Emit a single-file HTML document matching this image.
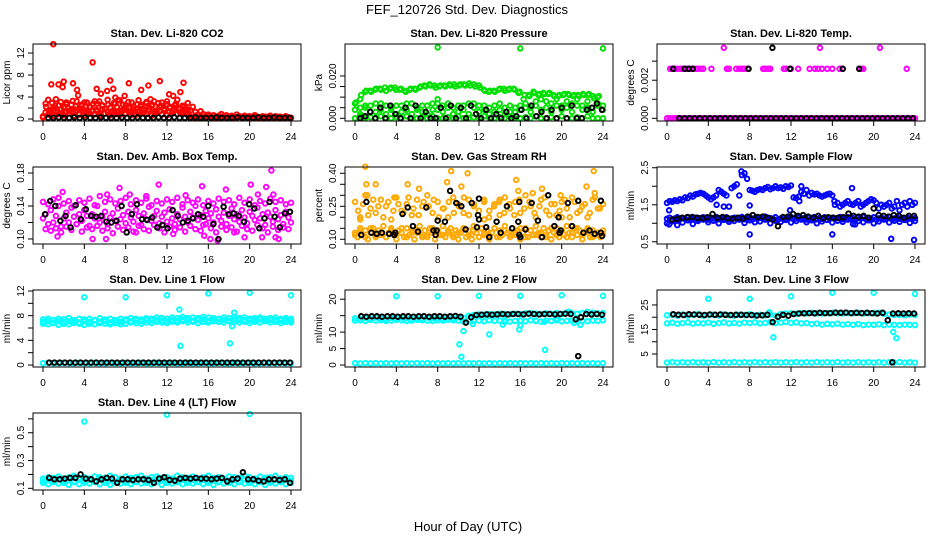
<!DOCTYPE html>
<html><head><meta charset="utf-8">
<style>
html,body{margin:0;padding:0;background:#fff;}
svg{display:block;font-family:"Liberation Sans",Arial,sans-serif;}
</style></head>
<body>
<svg id="chart" width="936" height="540" viewBox="0 0 936 540" xmlns="http://www.w3.org/2000/svg">
<rect x="0" y="0" width="936" height="540" fill="#fff"/>
<text x="467" y="14" font-size="13" text-anchor="middle">FEF_120726  Std. Dev. Diagnostics</text>
<text x="468" y="531" font-size="13" text-anchor="middle">Hour of Day (UTC)</text>
</svg>
<script>
// ---------- data ----------
const xTicks = [0,4,8,12,16,20,24];

// Panel 1: CO2
const co2Main = [0.3,2.8,3.5,1.2,2.0,3.6,2.5,1.0,2.2,3.0,1.5,2.6,1.8,3.2,0.9,2.4,1.6,3.0,2.2,1.4,3.2,2.8,1.0,2.5,1.9,3.5,2.1,1.2,2.8,3.4,1.5,2.6,2.0,3.1,1.3,2.3,1.8,3.4,2.6,1.1,2.9,1.7,2.4,3.2,1.4,2.2,3.0,1.6,2.7,2.0,1.2,2.5,3.5,1.8,2.4,1.0,2.9,1.6,2.2,1.3,0.8,1.4,0.9,0.6,0.8,0.5,0.7,0.4,0.6,0.9,0.5,0.7,0.3,0.6,0.4,0.8,0.5,0.3,0.6,0.4,0.5,0.3,0.7,0.4,0.3,0.5,0.2,0.4,0.6,0.3,0.5,0.3,0.4,0.2,0.5,0.3,0.2];
const co2Low = [0.5,1.2,0.8,1.6,0.6,1.4,0.9,1.8,0.7,1.3,1.0,1.7,0.6,1.5,0.8,1.9,0.7,1.2,1.1,1.6,0.9,1.4,0.6,1.8,1.0,1.3,0.7,1.5,0.9,1.2,0.8,1.6,1.0,1.4,0.7,1.9,0.8,1.3,1.1,1.5,0.9,1.7,0.6,1.2,1.0,1.4,0.8,1.6,0.7,1.3,1.0,1.8,0.9,1.2,1.1,1.5,0.7,0.5,0.3,0.6,0.2,0.4,0.3,0.2,0.5,0.3,0.2,0.4,0.3,0.2,0.5,0.2,0.3,0.4,0.2,0.3,0.5,0.2,0.4,0.3,0.2,0.3,0.4,0.2,0.3,0.2,0.4,0.3,0.2,0.3,0.2,0.4,0.2,0.3,0.2,0.3,0.2];
const co2Extra = [2.2,1.6,2.9,2.4,1.3,3.1,2.0,2.7,1.5,3.3,2.3,1.8,2.6,3.0,1.4,2.1,2.8,1.7,3.2,2.4,1.9,2.6,1.2,2.9,2.2,3.4,1.6,2.5,2.0,3.0,1.4,2.7,2.3,1.8,3.1,2.1,2.6,1.5,2.9,2.4,1.9,3.2,2.2,1.6,2.8,2.0,1.3,2.4,1.7];
const co2OutT = [1.0,0.8,1.5,2.0,1.9,2.9,3.3,4.8,5.2,6.5,6.8,6.2,7.9,8.3,9.5,10.2,11.3,13.3,13.6,12.2,10.4,3.4,5.6,7.0,12.6];
const co2OutV = [13.6,6.3,6.3,6.8,5.8,6.5,5.3,10.3,5.5,7.0,5.5,5.1,4.2,6.5,5.3,6.1,6.9,4.9,6.6,4.5,3.6,4.3,4.6,3.9,4.2];
const co2Blk = [0.2,0.2,0.3,0.2,0.2,0.3,0.2,0.3,0.2,0.2,0.3,0.2,0.2,0.2,0.3,0.2,0.2,0.3,0.2,0.2,0.2,0.3,0.2,0.2,0.3,0.2,0.2,0.2,0.3,0.2,0.2,0.2,0.3,0.2,0.2,0.2,0.3,0.2,0.2,0.2,0.3,0.2,0.2,0.3,0.2,0.2,0.2];

// Panel 2: Pressure
const presHi = [0.009,0.0125,0.013,0.0135,0.014,0.0145,0.014,0.0145,0.0135,0.013,0.0135,0.014,0.0145,0.0155,0.016,0.0155,0.015,0.0155,0.016,0.016,0.0155,0.016,0.0165,0.016,0.0155,0.0135,0.0125,0.013,0.0135,0.014,0.0135,0.014,0.012,0.009,0.011,0.0125,0.011,0.012,0.0115,0.011,0.0105,0.011,0.0115,0.0105,0.011,0.0115,0.011,0.0105,0.01];
const presHi2 = [0.011,0.013,0.0125,0.014,0.0135,0.013,0.0145,0.0135,0.014,0.0125,0.014,0.0135,0.015,0.015,0.0155,0.0145,0.0155,0.015,0.0155,0.015,0.016,0.0155,0.0155,0.015,0.0145,0.013,0.013,0.0125,0.014,0.013,0.014,0.0135,0.0125,0.011,0.0105,0.012,0.0115,0.0115,0.012,0.0105,0.011,0.0115,0.011,0.011,0.0105,0.011,0.0115,0.0095,0.0105];
const presMid = [0.007,0.005,0.006,0.003,0.007,0.004,0.006,0.005,0.002,0.006,0.004,0.007,0.005,0.003,0.006,0.007,0.004,0.006,0.007,0.005,0.003,0.006,0.007,0.005,0.006,0.004,0.002,0.006,0.004,0.005,0.003,0.005,0.006,0.007,0.005,0.008,0.009,0.008,0.007,0.009,0.006,0.008,0.007,0.009,0.006,0.008,0.005,0.007,0.006];
const presMid2 = [0.004,0.002,0.005,0.006,0.003,0.007,0.002,0.004,0.006,0.003,0.007,0.002,0.004,0.006,0.002,0.004,0.007,0.003,0.005,0.002,0.006,0.004,0.002,0.007,0.003,0.006,0.005,0.003,0.007,0.002,0.006,0.003,0.004,0.005,0.003,0.006,0.004,0.005,0.003,0.006,0.004,0.005,0.003,0.006,0.004,0.005,0.003,0.006,0.004];
const presLow = [0,0.001,0,0.0005,0,0.001,0,0,0.0005,0,0.001,0,0,0.0005,0,0.001,0,0,0.0005,0,0.001,0,0,0.0005,0,0.001,0,0,0.0005,0,0.001,0,0,0.0005,0,0.001,0,0,0.0005,0,0.001,0,0,0.0005,0,0.001,0,0,0];
const presOutT = [8.0,16.0,24.0,0.1,8.0];
const presOutV = [0.0335,0.033,0.033,0.0075,0.009];
const presBlk = [0.0,0.001,0.003,0.0,0.005,0.0,0.006,0.002,0.0,0.005,0.0,0.006,0.0,0.003,0.0,0.0,0.005,0.0,0.006,0.0,0.005,0.0,0.006,0.002,0.0,0.004,0.0,0.002,0.0,0.003,0.0,0.001,0.004,0.0,0.006,0.001,0.003,0.0,0.004,0.0,0.005,0.0,0.006,0.0,0.0,0.004,0.005,0.007,0.004];

// Panel 3: Temp
const tempZero = [0,0,0,0,0,0,0,0,0,0,0,0,0,0,0,0,0,0,0,0,0,0,0,0,0,0,0,0,0,0,0,0,0,0,0,0,0,0,0,0,0,0,0,0,0,0,0,0,0,0,0,0,0,0,0,0,0,0,0,0,0,0,0,0,0,0,0,0,0,0,0,0,0,0,0,0,0,0,0,0,0,0,0,0,0,0,0,0,0,0,0,0,0,0,0,0,0];
const tempHiT = [0.3,0.5,0.8,1.0,1.3,1.5,1.8,2.0,2.2,2.5,2.8,3.0,3.3,3.5,4.3,5.8,6.0,6.7,7.0,7.3,7.5,7.8,9.3,9.5,9.8,10.0,11.3,11.5,12.0,12.7,13.8,14.3,14.6,15.0,15.5,16.0,16.7,17.0,18.8,19.0,23.2,5.5,14.8,20.6];
const tempHiV = [0.0026,0.0026,0.0026,0.0026,0.0026,0.0026,0.0026,0.0026,0.0026,0.0026,0.0026,0.0026,0.0026,0.0026,0.0026,0.0026,0.0026,0.0026,0.0026,0.0026,0.0026,0.0026,0.0026,0.0026,0.0026,0.0026,0.0026,0.0026,0.0026,0.0026,0.0026,0.0026,0.0026,0.0026,0.0026,0.0026,0.0026,0.0026,0.0026,0.0026,0.0026,0.0037,0.0037,0.0037];
const tempBlkZero = [0,0,0,0,0,0,0,0,0,0,0,0,0,0,0,0,0,0,0,0,0,0,0,0,0,0,0,0,0,0,0,0,0,0,0,0,0,0,0,0,0,0,0,0,0,0,0];
const tempBlkT = [0.6,1.7,2.1,2.5,7.9,11.9,17.0,18.6,10.2];
const tempBlkV = [0.0026,0.0026,0.0026,0.0026,0.0026,0.0026,0.0026,0.0026,0.0037];

// Panel 4: Amb box temp
const ambA = [0.125,0.13,0.118,0.135,0.12,0.128,0.14,0.115,0.125,0.132,0.12,0.138,0.127,0.118,0.13,0.122,0.135,0.128,0.116,0.13,0.125,0.14,0.12,0.127,0.133,0.118,0.126,0.131,0.122,0.137,0.124,0.129,0.119,0.133,0.126,0.121,0.135,0.128,0.117,0.131,0.124,0.139,0.122,0.128,0.134,0.119,0.127,0.132,0.121,0.136,0.125,0.118,0.13,0.124,0.138,0.127,0.12,0.133,0.126,0.14,0.123,0.129,0.117,0.134,0.125,0.131,0.12,0.136,0.127,0.122,0.132,0.118,0.128,0.137,0.124,0.13,0.121,0.135,0.126,0.119,0.133,0.128,0.123,0.138,0.125,0.13,0.117,0.132,0.127,0.121,0.135,0.124,0.129,0.118,0.133,0.126,0.12];
const ambB = [0.145,0.112,0.142,0.11,0.148,0.113,0.15,0.108,0.143,0.115,0.146,0.111,0.14,0.118,0.147,0.109,0.144,0.114,0.149,0.112,0.141,0.116,0.152,0.11,0.145,0.113,0.148,0.107,0.143,0.115,0.146,0.111,0.15,0.114,0.142,0.109,0.147,0.116,0.144,0.112,0.149,0.11,0.141,0.117,0.146,0.113,0.143,0.108,0.148,0.115,0.145,0.111,0.15,0.114,0.142,0.109,0.147,0.116,0.144,0.112,0.148,0.11,0.141,0.118,0.146,0.113,0.143,0.108,0.149,0.115,0.145,0.111,0.147,0.114,0.142,0.109,0.15,0.116,0.144,0.112,0.148,0.11,0.141,0.117,0.146,0.113,0.143,0.108,0.149,0.115,0.145,0.111,0.147,0.114,0.142,0.112,0.144];
const ambOutT = [1.9,1.4,4.8,6.1,6.2,7.4,8.4,9.0,10.0,11.2,12.6,13.8,15.4,15.6,16.2,17.7,18.5,19.5,20.1,20.8,21.2,21.6,22.1,22.3,22.5,22.8,16.9];
const ambOutV = [0.157,0.103,0.1,0.1,0.154,0.162,0.154,0.108,0.152,0.166,0.106,0.153,0.164,0.104,0.1,0.16,0.108,0.102,0.166,0.154,0.102,0.163,0.183,0.154,0.102,0.1,0.098];
const ambBlk = [0.13,0.146,0.14,0.122,0.128,0.114,0.141,0.124,0.136,0.128,0.127,0.128,0.121,0.12,0.122,0.14,0.108,0.13,0.142,0.124,0.123,0.126,0.114,0.117,0.113,0.135,0.128,0.12,0.122,0.125,0.13,0.127,0.14,0.118,0.1,0.139,0.13,0.131,0.128,0.121,0.142,0.137,0.113,0.125,0.145,0.127,0.114,0.131,0.133];

// Panel 5: Gas stream RH
const rhA = [0.13,0.11,0.15,0.12,0.14,0.10,0.13,0.15,0.11,0.14,0.12,0.16,0.11,0.13,0.15,0.12,0.10,0.14,0.13,0.11,0.15,0.12,0.14,0.10,0.13,0.16,0.11,0.14,0.12,0.15,0.13,0.10,0.14,0.12,0.16,0.11,0.13,0.15,0.12,0.14,0.10,0.13,0.15,0.11,0.14,0.12,0.16,0.13,0.11,0.15,0.12,0.14,0.10,0.13,0.15,0.11,0.14,0.12,0.16,0.13,0.11,0.15,0.12,0.14,0.10,0.13,0.15,0.11,0.14,0.12,0.16,0.13,0.11,0.15,0.12,0.14,0.10,0.13,0.15,0.11,0.14,0.12,0.16,0.13,0.11,0.15,0.12,0.14,0.10,0.13,0.15,0.11,0.14,0.12,0.13,0.11,0.14];
const rhA2 = [0.12,0.14,0.11,0.15,0.12,0.13,0.11,0.14,0.12,0.15,0.11,0.13,0.14,0.12,0.11,0.15,0.13,0.12,0.14,0.11,0.13,0.15,0.12,0.14,0.11,0.13,0.12,0.15,0.11,0.14,0.12,0.13,0.15,0.11,0.14,0.12,0.13,0.11,0.15,0.12,0.14,0.11,0.13,0.15,0.12,0.14,0.11,0.13,0.12];
const rhB = [0.27,0.2,0.3,0.24,0.22,0.28,0.25,0.19,0.29,0.23,0.26,0.21,0.28,0.25,0.3,0.22,0.27,0.24,0.2,0.29,0.26,0.22,0.28,0.25,0.19,0.27,0.23,0.26,0.21,0.29,0.24,0.27,0.22,0.3,0.25,0.2,0.28,0.23,0.26,0.21,0.27,0.24,0.29,0.22,0.25,0.2,0.28,0.24,0.26];
const rhB2 = [0.23,0.26,0.21,0.28,0.25,0.2,0.27,0.23,0.26,0.22,0.29,0.24,0.21,0.27,0.25,0.28,0.2,0.24,0.27,0.22,0.25,0.29,0.21,0.26,0.23,0.28,0.2,0.25,0.27,0.22,0.26,0.21,0.28,0.24,0.27,0.22,0.25,0.29,0.21,0.26,0.23,0.28,0.2,0.27,0.23,0.26,0.22,0.29,0.24];
const rhOutT = [1.0,1.1,2.0,1.2,5.1,6.2,8.9,9.3,10.9,10.3,15.6,15.8,17.2,18.1,19.9,22.4,23.1,23.2,0.5,11.3,20.0,3.8,12.5,14.0];
const rhOutV = [0.43,0.35,0.35,0.3,0.35,0.33,0.36,0.41,0.4,0.34,0.37,0.32,0.31,0.33,0.3,0.34,0.41,0.31,0.19,0.1,0.2,0.29,0.19,0.28];
const rhBlkT = [0.6,1.1,1.6,2.1,2.6,3.3,3.8,3.9,4.6,5.1,5.6,6.1,6.9,7.6,7.8,7.9,8.0,8.7,9.2,9.8,10.3,10.7,11.3,11.8,11.9,12.0,12.0,12.7,13.0,13.7,14.1,14.7,15.2,15.8,15.9,15.9,16.0,16.5,17.1,17.7,18.1,18.7,19.3,19.7,19.8,19.9,20.6,21.0,21.6,22.1,22.7,23.2,23.8,23.8,23.9];
const rhBlkV = [0.12,0.27,0.13,0.125,0.13,0.125,0.12,0.13,0.215,0.245,0.16,0.135,0.245,0.14,0.12,0.14,0.185,0.18,0.32,0.265,0.25,0.145,0.265,0.155,0.21,0.19,0.285,0.155,0.11,0.18,0.13,0.25,0.15,0.18,0.12,0.27,0.11,0.145,0.265,0.185,0.11,0.3,0.16,0.2,0.13,0.14,0.265,0.16,0.275,0.13,0.14,0.125,0.13,0.275,0.115];

// Panel 6: Sample flow
const flowLowA = [1.0,1.05,1.1,1.02,1.08,0.98,1.06,1.1,1.03,1.07,1.0,1.09,1.04,1.06,1.1,1.01,1.08,1.03,1.05,1.1,1.0,1.07,1.04,1.09,1.02,1.06,1.1,1.03,1.08,1.0,1.05,1.09,1.02,1.07,1.04,1.1,0.98,1.06,1.03,1.08,1.0,1.05,1.1,1.02,1.07,1.04,1.09,1.01,1.06];
const flowLowB = [1.12,1.15,1.1,1.13,1.16,1.11,1.14,1.12,1.17,1.1,1.13,1.15,1.11,1.14,1.16,1.12,1.1,1.15,1.13,1.17,1.11,1.14,1.12,1.16,1.1,1.13,1.15,1.12,1.14,1.17,1.11,1.13,1.16,1.1,1.14,1.12,1.15,1.13,1.18,1.11,1.14,1.12,1.16,1.1,1.13,1.15,1.12,1.14,1.17,1.11,1.13,1.16,1.12,1.14,1.1,1.15,1.13,1.17,1.11,1.14,1.12,1.16,1.1,1.13,1.15,1.12,1.14,1.17,1.11,1.13,1.16,1.12,1.14,1.1,1.15,1.13,1.17,1.11,1.14,1.12,1.16,1.1,1.13,1.15,1.12,1.14,1.17,1.11,1.13,1.16,1.12,1.14,1.1,1.15,1.13,1.12,1.14];
const flowHigh = [1.55,1.6,1.58,1.62,1.6,1.65,1.62,1.7,1.68,1.75,1.72,1.78,1.8,1.82,1.8,1.75,1.7,1.65,1.7,1.75,1.9,1.85,1.8,1.75,1.45,1.95,2.0,2.05,1.75,2.3,2.35,2.2,1.9,1.88,1.85,1.9,1.92,1.9,1.95,1.98,1.92,1.95,2.0,1.95,1.97,1.93,2.0,1.98,2.02,1.7,1.68,1.72,1.85,1.8,1.9,1.75,1.82,1.78,1.8,1.75,1.72,1.75,1.78,1.8,1.75,1.5,1.55,1.45,1.5,1.55,1.6,1.52,1.5,1.55,1.6,1.45,1.5,1.55,1.6,1.65,1.62,1.55,1.4,1.5,1.45,1.5,1.55,1.4,1.45,1.6,1.35,1.5,1.55,1.45,1.6,1.5,1.55];
const flowOutT = [0.2,0.2,7.2,8.0,8.0,13.0,16.0,16.2,17.9,18.2,21.7,23.9,11.9,4.8,5.5,12.8,1.0];
const flowOutV = [1.35,0.97,2.4,0.7,1.48,2.0,0.7,1.6,1.95,0.97,0.58,0.55,1.35,1.5,1.45,1.6,0.95];
const flowBlk = [1.1,1.12,1.15,1.16,1.17,1.15,1.14,1.16,1.25,1.15,1.17,1.14,1.12,1.15,1.13,1.18,1.22,1.17,1.18,1.15,1.1,0.92,1.17,1.18,1.25,1.2,1.22,1.18,1.15,1.2,1.14,1.16,1.15,1.15,1.16,1.26,1.2,1.18,1.2,1.15,1.4,1.22,1.2,1.18,1.22,1.2,1.15,1.2,1.2];

// Panel 7: Line 1 flow
const l1A = [7.4,7.5,7.3,7.5,7.4,7.6,7.3,7.5,7.4,7.5,7.3,7.6,7.4,7.5,7.3,7.5,7.4,7.6,7.5,7.4,7.6,7.5,7.7,7.6,7.5,7.7,7.6,7.8,7.6,7.7,7.6,7.8,7.7,7.6,7.5,7.7,7.6,7.8,7.6,7.7,7.5,7.6,7.7,7.5,7.6,7.7,7.5,7.6,7.5];
const l1B = [6.7,6.6,6.8,6.5,6.7,6.6,6.8,6.7,6.5,6.7,6.6,6.8,6.7,6.6,6.8,6.6,6.7,6.9,6.8,6.7,6.9,6.8,7.0,6.9,6.8,7.0,6.9,7.1,6.9,7.0,6.8,7.0,6.9,7.1,7.0,6.9,7.1,7.0,6.9,7.0,6.8,7.0,6.9,7.1,6.9,7.0,6.8,7.0,6.9];
const l1C = [7.0,7.1,6.9,7.1,7.0,7.1,7.0,6.9,7.1,7.0,7.2,7.0,7.1,6.9,7.1,7.0,7.2,7.1,7.2,7.1,7.3,7.2,7.3,7.2,7.1,7.3,7.2,7.4,7.3,7.2,7.3,7.4,7.2,7.3,7.4,7.3,7.2,7.4,7.3,7.3,7.2,7.3,7.4,7.2,7.3,7.3,7.2,7.3,7.2];
const l1Zero = [0.3,0.35,0.3,0.3,0.35,0.3,0.3,0.35,0.3,0.3,0.35,0.3,0.3,0.35,0.3,0.3,0.35,0.3,0.3,0.35,0.3,0.3,0.35,0.3,0.3,0.35,0.3,0.3,0.35,0.3,0.3,0.35,0.3,0.3,0.35,0.3,0.3,0.35,0.3,0.3,0.35,0.3,0.3,0.35,0.3,0.3,0.35,0.3,0.3];
const l1OutT = [4,8,12,16,20,24,13.2,13.3,18.1,18.5,18.3];
const l1OutV = [11.0,11.0,11.3,11.6,11.7,11.3,9.0,3.1,3.5,8.5,6.3];
const l1Blk = [0.4,0.4,0.4,0.4,0.4,0.4,0.4,0.4,0.4,0.4,0.4,0.4,0.4,0.4,0.4,0.4,0.4,0.4,0.4,0.4,0.4,0.4,0.4,0.4,0.4,0.4,0.4,0.4,0.4,0.4,0.4,0.4,0.4,0.4,0.4,0.4,0.4,0.4,0.4,0.4,0.4,0.4,0.4,0.4,0.4,0.4,0.4];

// Panel 8: Line 2 flow
const l2A = [14.2,14.0,14.3,14.1,14.4,14.2,14.0,14.3,14.1,14.4,14.2,14.0,14.3,14.1,14.4,14.2,14.3,14.1,14.4,14.2,14.5,14.3,15.0,15.2,15.4,15.3,15.5,15.4,15.6,15.5,15.4,15.6,15.5,15.7,15.8,15.6,15.5,15.7,15.6,15.8,15.5,15.9,15.7,15.6,15.8,16.2,15.9,15.7,15.8];
const l2B = [13.5,13.6,13.4,13.7,13.5,13.6,13.4,13.5,13.7,13.6,13.4,13.5,13.7,13.6,13.5,13.4,13.6,13.5,13.7,13.6,13.5,13.2,13.6,13.4,13.5,13.3,13.6,13.4,13.5,13.6,13.2,13.4,13.5,13.3,13.6,13.4,13.2,13.5,13.4,13.6,13.3,13.4,13.5,13.2,13.4,13.3,13.5,13.4,13.6];
const l2Zero = [0.6,0.5,0.6,0.5,0.6,0.5,0.6,0.5,0.6,0.5,0.6,0.5,0.6,0.5,0.6,0.5,0.6,0.5,0.6,0.5,0.6,0.5,0.6,0.5,0.6,0.5,0.6,0.5,0.6,0.5,0.6,0.5,0.6,0.5,0.6,0.5,0.6,0.5,0.6,0.5,0.6,0.5,0.6,0.5,0.6,0.5,0.6,0.5,0.6];
const l2OutT = [4,8,12,16,20,24,10.1,10.3,10.5,11.4,13.0,14.3,14.5,15.9,16.0,18.3,18.4,19.6,20.7,21.2,21.8,17.5];
const l2OutV = [20.9,20.9,21.0,21.0,21.2,21.0,6.3,2.5,10.3,12.5,9.3,12.3,13.1,10.8,12.0,13.1,4.6,14.0,16.2,12.8,12.2,13.5];
const l2Blk = [14.8,14.7,14.8,14.8,14.7,14.8,14.8,14.7,14.8,14.8,14.7,14.8,14.8,14.7,14.8,14.8,14.7,14.8,14.9,14.7,12.9,14.5,15.2,15.3,15.4,15.3,15.4,15.5,15.4,15.5,15.5,15.4,15.6,15.5,15.4,15.5,15.5,15.4,15.5,15.6,15.5,13.9,14.5,15.5,15.4,15.5,15.3];
const l2BlkOutT = [21.6];
const l2BlkOutV = [2.7];

// Panel 9: Line 3 flow
const l3A = [20.8,21.0,20.6,21.1,20.7,20.9,21.2,20.6,20.9,21.0,20.7,21.1,20.8,20.6,21.0,20.9,21.2,20.7,21.0,20.8,21.1,20.6,21.3,21.5,21.6,21.4,21.7,21.5,21.8,21.6,21.5,21.7,21.8,21.6,21.5,21.7,21.6,21.8,21.5,21.7,21.6,21.8,21.4,21.1,20.9,21.0,20.8,21.1,21.0];
const l3B = [17.5,17.8,17.3,17.6,17.9,17.4,17.7,17.5,17.8,17.3,17.6,17.9,17.5,17.7,17.4,17.8,17.6,17.9,17.5,17.7,18.0,17.6,17.8,18.1,17.7,17.9,17.5,17.6,17.2,17.4,17.0,17.3,17.1,17.4,17.0,17.2,16.9,17.2,16.8,17.0,16.9,17.1,16.8,17.0,16.9,16.8,17.0,16.9,16.8];
const l3Zero = [1.5,1.7,1.5,1.6,1.5,1.7,1.5,1.6,1.5,1.7,1.5,1.6,1.5,1.7,1.5,1.6,1.5,1.7,1.5,1.6,1.5,1.7,1.5,1.6,1.5,1.7,1.5,1.6,1.5,1.7,1.5,1.6,1.5,1.7,1.5,1.6,1.5,1.7,1.5,1.6,1.5,1.7,1.5,1.6,1.5,1.7,1.5,1.6,1.5];
const l3OutT = [4,8,12,16,20,24,10.3,21.9,22.2,9.9];
const l3OutV = [27.5,27.5,28.5,30.0,30.0,29.5,11.8,14.0,11.5,22.0];
const l3Blk = [21.2,21.0,20.9,21.2,21.1,21.0,20.9,21.1,21.0,21.1,21.0,20.9,21.0,21.0,20.9,20.9,20.7,20.8,21.0,18.0,20.2,21.0,20.6,21.3,21.5,21.6,21.7,21.6,21.8,21.7,21.7,21.9,21.8,21.9,21.7,21.8,21.7,21.8,21.7,21.5,21.8,18.8,21.5,21.6,21.5,21.6,21.5];
const l3BlkOutT = [21.8];
const l3BlkOutV = [1.6];

// Panel 10: Line 4 (LT) flow
const l4A = [0.17,0.18,0.175,0.185,0.17,0.18,0.19,0.175,0.18,0.17,0.185,0.18,0.175,0.19,0.18,0.17,0.185,0.175,0.18,0.19,0.17,0.18,0.185,0.175,0.18,0.17,0.19,0.18,0.175,0.185,0.17,0.18,0.19,0.175,0.18,0.17,0.185,0.18,0.175,0.19,0.18,0.17,0.185,0.175,0.18,0.19,0.17,0.18,0.175];
const l4B = [0.14,0.13,0.145,0.135,0.14,0.125,0.145,0.13,0.14,0.135,0.145,0.13,0.14,0.125,0.145,0.135,0.14,0.13,0.145,0.135,0.14,0.13,0.145,0.125,0.14,0.135,0.145,0.13,0.14,0.135,0.145,0.13,0.14,0.125,0.145,0.135,0.14,0.13,0.145,0.135,0.14,0.13,0.145,0.125,0.14,0.135,0.145,0.13,0.14];
const l4C = [0.155,0.16,0.15,0.165,0.155,0.16,0.15,0.165,0.155,0.16,0.15,0.165,0.155,0.16,0.15,0.165,0.155,0.16,0.15,0.165,0.155,0.16,0.15,0.165,0.155,0.16,0.15,0.165,0.155,0.16,0.15,0.165,0.155,0.16,0.15,0.165,0.155,0.16,0.15,0.165,0.155,0.16,0.15,0.165,0.155,0.16,0.15,0.165,0.155];
const l4OutT = [4,12,20];
const l4OutV = [0.58,0.63,0.635];
const l4Blk = [0.175,0.165,0.165,0.17,0.175,0.175,0.2,0.17,0.165,0.15,0.165,0.175,0.17,0.14,0.165,0.165,0.16,0.165,0.165,0.16,0.14,0.17,0.18,0.16,0.155,0.17,0.175,0.17,0.175,0.17,0.17,0.165,0.17,0.175,0.15,0.165,0.17,0.215,0.165,0.165,0.155,0.15,0.165,0.165,0.16,0.165,0.14];

// ---------- layout / config ----------
const panels = [
 {name:'co2',title:'Stan. Dev. Li-820 CO2',ylab:'Licor ppm',col:0,row:0,ymin:-0.36,ymax:13.64,
  ticks:[0,2,4,6,8,10,12],labels:['0','','4','','8','','12'],
  series:[{c:'#ff0000',v:co2Main},{c:'#ff0000',v:co2Low},{c:'#ff0000',v:co2Extra,t0:0.3,t1:14},{c:'#ff0000',t:co2OutT,v:co2OutV},{c:'#000',v:co2Blk,t0:0.5,t1:23.9}]},
 {name:'pressure',title:'Stan. Dev. Li-820 Pressure',ylab:'kPa',col:1,row:0,ymin:-0.00128,ymax:0.0351,
  ticks:[0,0.005,0.01,0.015,0.02],labels:['0.000','','','','0.020'],
  series:[{c:'#00e000',v:presHi,t0:0.5,t1:23.5},{c:'#00e000',v:presHi2,t0:0.6,t1:23.6},{c:'#00e000',v:presMid},{c:'#00e000',v:presMid2},{c:'#00e000',v:presLow},{c:'#00e000',t:presOutT,v:presOutV},{c:'#000',v:presBlk,t0:0.5,t1:23.9}]},
 {name:'temp',title:'Stan. Dev. Li-820 Temp.',ylab:'degrees C',col:2,row:0,ymin:-0.00014,ymax:0.0039,
  ticks:[0,0.001,0.002,0.003],labels:['0.000','','0.002',''],
  series:[{c:'#ff00ff',v:tempZero},{c:'#ff00ff',t:tempHiT,v:tempHiV},{c:'#000',v:tempBlkZero,t0:1.2,t1:23.8},{c:'#000',t:tempBlkT,v:tempBlkV}]},
 {name:'amb-box-temp',title:'Stan. Dev. Amb. Box Temp.',ylab:'degrees C',col:0,row:1,ymin:0.0939,ymax:0.1873,
  ticks:[0.10,0.12,0.14,0.16,0.18],labels:['0.10','','0.14','','0.18'],
  series:[{c:'#ff00ff',v:ambA},{c:'#ff00ff',v:ambB},{c:'#ff00ff',t:ambOutT,v:ambOutV},{c:'#000',v:ambBlk,t0:0.2,t1:23.9}]},
 {name:'gas-rh',title:'Stan. Dev. Gas Stream RH',ylab:'percent',col:1,row:1,ymin:0.0786,ymax:0.4286,
  ticks:[0.10,0.15,0.20,0.25,0.30,0.35,0.40],labels:['0.10','','','0.25','','','0.40'],
  series:[{c:'#ffa800',v:rhA},{c:'#ffa800',v:rhA2},{c:'#ffa800',v:rhB},{c:'#ffa800',v:rhB2,t0:0.3,t1:23.7},{c:'#ffa800',t:rhOutT,v:rhOutV},{c:'#000',t:rhBlkT,v:rhBlkV}]},
 {name:'sample-flow',title:'Stan. Dev. Sample Flow',ylab:'ml/min',col:2,row:1,ymin:0.44,ymax:2.52,
  ticks:[0.5,1.0,1.5,2.0,2.5],labels:['0.5','','1.5','','2.5'],
  series:[{c:'#0000ff',v:flowLowA},{c:'#0000ff',v:flowLowB},{c:'#0000ff',v:flowHigh},{c:'#0000ff',t:flowOutT,v:flowOutV},{c:'#000',v:flowBlk,t0:0.5,t1:23.9}]},
 {name:'line1-flow',title:'Stan. Dev. Line 1 Flow',ylab:'ml/min',col:0,row:2,ymin:-0.32,ymax:12.16,
  ticks:[0,2,4,6,8,10,12],labels:['0','','4','','8','','12'],
  series:[{c:'#00ffff',v:l1A},{c:'#00ffff',v:l1B},{c:'#00ffff',v:l1C},{c:'#00ffff',v:l1Zero},{c:'#00ffff',t:l1OutT,v:l1OutV},{c:'#000',v:l1Blk,t0:0.6,t1:23.9}]},
 {name:'line2-flow',title:'Stan. Dev. Line 2 Flow',ylab:'ml/min',col:1,row:2,ymin:-0.6,ymax:22.8,
  ticks:[0,5,10,15,20],labels:['0','5','10','','20'],
  series:[{c:'#00ffff',v:l2A},{c:'#00ffff',v:l2B},{c:'#00ffff',v:l2Zero},{c:'#00ffff',t:l2OutT,v:l2OutV},{c:'#000',v:l2Blk,t0:0.6,t1:23.9},{c:'#000',t:l2BlkOutT,v:l2BlkOutV}]},
 {name:'line3-flow',title:'Stan. Dev. Line 3 Flow',ylab:'ml/min',col:2,row:2,ymin:-0.3,ymax:31.1,
  ticks:[5,10,15,20,25],labels:['5','','15','','25'],
  series:[{c:'#00ffff',v:l3A},{c:'#00ffff',v:l3B},{c:'#00ffff',v:l3Zero},{c:'#00ffff',t:l3OutT,v:l3OutV},{c:'#000',v:l3Blk,t0:0.6,t1:23.9},{c:'#000',t:l3BlkOutT,v:l3BlkOutV}]},
 {name:'line4-flow',title:'Stan. Dev. Line 4 (LT) Flow',ylab:'ml/min',col:0,row:3,ymin:0.088,ymax:0.642,
  ticks:[0.1,0.2,0.3,0.4,0.5,0.6],labels:['0.1','','0.3','','0.5',''],
  series:[{c:'#00ffff',v:l4A},{c:'#00ffff',v:l4B},{c:'#00ffff',v:l4C},{c:'#00ffff',t:l4OutT,v:l4OutV},{c:'#000',v:l4Blk,t0:0.6,t1:23.9}]}
];

const NS = 'http://www.w3.org/2000/svg';
const svg = document.getElementById('chart');
function mk(tag, attrs, parent){
  const e = document.createElementNS(NS, tag);
  for (const k in attrs) e.setAttribute(k, attrs[k]);
  (parent||svg).appendChild(e);
  return e;
}

panels.forEach(p => {
  const L = 33 + 312*p.col, R = L + 268, T = 44 + 123*p.row, B = T + 77;
  const xs = h => L + 10 + h*(248/24);
  const ys = v => B - (v - p.ymin)/(p.ymax - p.ymin)*(B - T);
  const g = mk('g', {});
  
  

  const tt = mk('text', {x:(L+R)/2, y:T-7, 'font-size':11, 'font-weight':'bold', 'text-anchor':'middle'}, g);
  tt.textContent = p.title;
  
  

  const pg = mk('g', {fill:'none', 'stroke-width':1.9}, g);
  
  
  p.series.forEach(s => {
    const n = s.v.length;
    const t0 = s.t0 !== undefined ? s.t0 : 0, t1 = s.t1 !== undefined ? s.t1 : 24;
    for (let i = 0; i < n; i++) {
      const h = s.t ? s.t[i] : (n > 1 ? t0 + (t1 - t0)*i/(n-1) : t0);
      const c = mk('circle', {cx:xs(h).toFixed(1), cy:ys(s.v[i]).toFixed(1), r:2.3, stroke:s.c}, pg);
      
      
    }
  });

  const box = mk('rect', {x:L, y:T, width:R-L, height:B-T, fill:'none', stroke:'#000', 'stroke-width':1}, g);
  
  

  xTicks.forEach(h => {
    const x = xs(h);
    const ln = mk('line', {x1:x, x2:x, y1:B, y2:B+5, stroke:'#000'}, g);
    
    
    const tx = mk('text', {x:x, y:B+19, 'font-size':10, 'text-anchor':'middle'}, g);
    tx.textContent = String(h);
    
    
  });

  p.ticks.forEach((v, i) => {
    const y = ys(v);
    const ln = mk('line', {x1:L-5, x2:L, y1:y, y2:y, stroke:'#000'}, g);
    
    
    if (p.labels[i]) {
      const tx = mk('text', {transform:'translate(' + (L-9) + ',' + y.toFixed(1) + ') rotate(-90)', 'font-size':10, 'text-anchor':'middle'}, g);
      tx.textContent = p.labels[i];
      
      
    }
  });
  const yt = mk('text', {transform:'translate(' + (L-23) + ',' + ((T+B)/2) + ') rotate(-90)', 'font-size':10, 'text-anchor':'middle'}, g);
  yt.textContent = p.ylab;
  
  
});
</script>
</body></html>
